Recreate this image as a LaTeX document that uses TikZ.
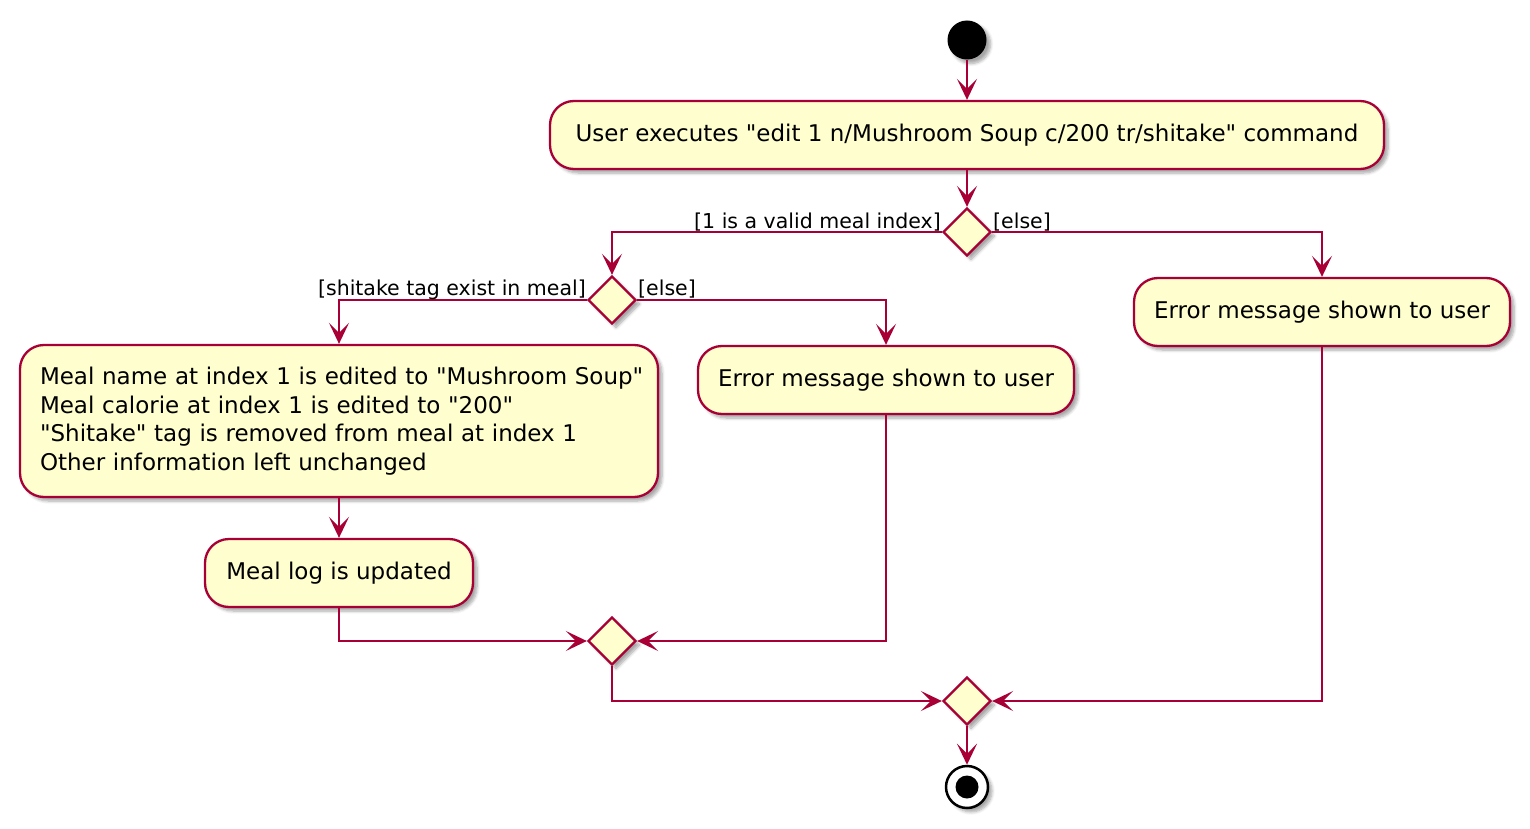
\documentclass[tikz,border=0pt]{standalone}
\usepackage{fontspec}
\setmainfont{DejaVu Sans}
\usetikzlibrary{shapes.geometric,arrows.meta,shadows.blur}
\definecolor{umlred}{HTML}{A80036}
\definecolor{umlfill}{HTML}{FEFECE}
\newcommand{\dq}{\XeTeXglyph\XeTeXcharglyph"22\relax}
\tikzset{
  shad/.style={blur shadow={shadow xshift=4pt,shadow yshift=-4pt,shadow blur radius=3pt,shadow blur steps=6,shadow opacity=35}},
  act/.style={draw=umlred,fill=umlfill,line width=2.3pt,rounded corners=24pt,minimum height=68pt,inner sep=0pt,
    font=\fontsize{23}{28.5}\selectfont,shad},
  dec/.style={diamond,draw=umlred,fill=umlfill,line width=2.3pt,minimum width=48pt,minimum height=48pt,inner sep=0pt,shad},
  startc/.style={circle,fill=black,minimum size=39pt,inner sep=0pt,shad},
  endc/.style={circle,draw=black,fill=white,line width=2.5pt,minimum size=42pt,inner sep=0pt,shad},
  endin/.style={circle,fill=black,minimum size=23pt,inner sep=0pt},
  arr/.style={draw=umlred,line width=2.3pt,-{Stealth[length=21pt,width=20pt,inset=10pt]}},
  lbl/.style={font=\fontsize{20.5}{24}\selectfont,inner sep=0pt}
}
\begin{document}
\begin{tikzpicture}[x=1pt,y=-1pt]
\useasboundingbox (0,0) rectangle (1530,829);
\node[startc] (start) at (967,40) {};
\node[act,minimum width=834pt] (cmd) at (967,135) {User executes \dq edit 1 n/Mushroom Soup c/200 tr/shitake\dq{} command};
\node[dec] (d1) at (967,232) {};
\node[dec] (d2) at (612,300) {};
\node[act,minimum width=376pt] (errR) at (1322,312) {Error message shown to user};
\node[act,minimum width=638pt,minimum height=152pt,text width=598pt,align=left,inner xsep=20pt] (big) at (339,421)
  {\mbox{Meal name at index 1 is edited to \dq Mushroom Soup\dq}\\\mbox{Meal calorie at index 1 is edited to \dq 200\dq}\\\mbox{\dq Shitake\dq{} tag is removed from meal at index 1}\\\mbox{Other information left unchanged}};
\node[act,minimum width=376pt] (errM) at (886,380) {Error message shown to user};
\node[act,minimum width=268pt] (mlog) at (339,573) {Meal log is updated};
\node[dec] (d3) at (612,641) {};
\node[dec] (d4) at (967,701) {};
\node[endc] (end) at (967,787) {};
\node[endin] (endi) at (end.center) {};

\draw[arr] (start) -- (cmd.north);
\draw[arr] (cmd.south) -- (d1.north);
\draw[arr] (d1.west) -| (d2.north);
\draw[arr] (d1.east) -| (errR.north);
\draw[arr] (d2.west) -| (big.north);
\draw[arr] (d2.east) -| (errM.north);
\draw[arr] (big.south) -- (mlog.north);
\draw[arr] (mlog.south) |- (d3.west);
\draw[arr] (errM.south) |- (d3.east);
\draw[arr] (d3.south) |- (d4.west);
\draw[arr] (errR.south) |- (d4.east);
\draw[arr] (d4.south) -- (end.north);

\node[lbl,anchor=base east] (l1) at (941,228) {[1 is a valid meal index]};
\node[lbl,anchor=base west] (l2) at (993,228) {[else]};
\node[lbl,anchor=base east] (l3) at (586,295) {[shitake tag exist in meal]};
\node[lbl,anchor=base west] (l4) at (638,295) {[else]};
\end{tikzpicture}
\end{document}
